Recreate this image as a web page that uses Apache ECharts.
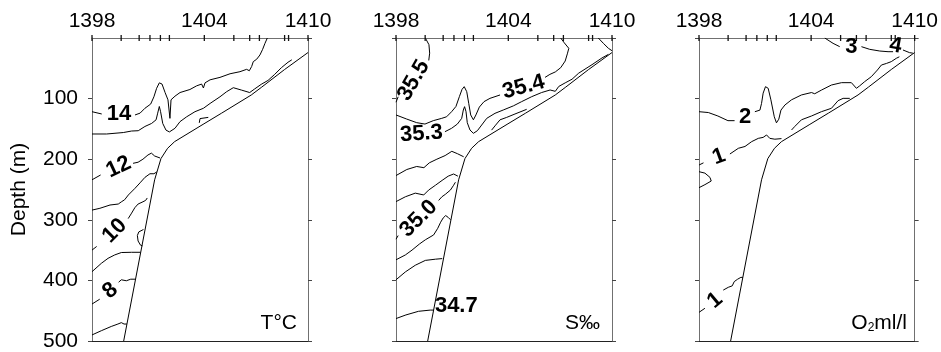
<!DOCTYPE html>
<html><head><meta charset="utf-8">
<script src="https://cdn.jsdelivr.net/npm/echarts@6/dist/echarts.min.js"></script>
<style>html,body{margin:0;padding:0;background:#fff}#c{width:941px;height:352px}</style>
</head><body><div id="c"></div>
<script>
// ---- stations along the section (distance in km from station 1398) ----
const stations   = [1398,1399,1400,1401,1402,1403,1404,1405,1406,1407,1408,1409,1410];
const stationKm  = [0,16.2,26.2,32.2,38,43,62.4,78.8,87.6,93,107,109.2,120];
const labelledStations = [1398,1404,1410];
const depthTicks = [0,100,200,300,400,500];

// ---- bottom profile [km, depth m] ----
const seafloor = [[120,24],[107,52],[94.3,81],[88.5,94],[72,124],[61.7,142.5],[45.9,171],[42,182],[38.3,199],[34.8,234],[17.6,500]];

// ---- temperature isolines [km, depth] ----
const temp14a = [[0,121.6],[5.4,125.4]];
const temp14b = [[23.9,127],[26.7,124],[29.4,116],[32.6,109],[34.4,97],[35.9,83],[37.4,74],[38.9,76],[40.6,90],[42.2,102],[43,102],[43.3,132.6],[43.9,102],[46.1,96],[48.9,90],[54.4,85],[58.1,79],[60.9,76],[61.9,82.5],[62.8,74],[65.6,69],[71.1,65],[76.7,59],[82.2,55.6],[85.9,51.7],[87.4,54],[88.7,47],[89.6,39],[91.5,35],[93.3,28],[94.8,18.7],[96.1,8.8],[97.4,0]];
const temp13  = [[0,158.4],[8.1,158.4],[17.4,156],[22,153.5],[25.7,153],[29.4,146],[33.1,141],[35.6,135],[36.5,124],[37.4,113],[38.1,121.6],[39.3,141],[41.1,152],[43,155],[46.1,149],[48.9,138],[52.6,130],[57.2,121.6],[61.9,116],[65.6,108],[71.1,97],[74.8,88.6],[78.5,82],[83.1,86],[87.6,90],[90.4,84],[94,76.5],[97.8,70],[101.5,60],[105.2,49],[108.9,40],[111,36]];
const temp13b = [[59.6,140],[60,133],[64.6,131]];
const temp12a = [[0,234],[4.8,226]];
const temp12b = [[22.8,206.8],[25.6,205],[28.3,200],[31.1,193],[33,190],[34.8,194.7],[37.8,198]];
const temp11  = [[0,284],[4.4,281],[10,275.6],[14.6,274],[16.5,270],[18.1,267],[20.2,259],[23.9,248],[26.7,239],[29.4,230],[32.2,224],[34.4,224],[36,221]];
const temp10a = [[0,350],[2.6,344]];
const temp10b = [[20.1,298],[22,289],[23.8,280],[25.6,274],[27.8,271],[29.8,268],[30.7,264]];
const temp10c = [[28.6,316],[26,320],[25.2,326],[25.6,335],[27,342],[28,343]];
const temp9   = [[0,385.6],[5.2,371.8],[8.9,363.6],[12.6,358],[16.3,354],[21.9,353.6],[27,353.6]];
const temp8a  = [[0,439],[4.3,431]];
const temp8b  = [[14.8,403],[16.3,399],[19.1,400.6],[21.5,398],[24.2,398]];
const temp7   = [[0,490],[5.2,483],[10.7,476],[14.4,472],[16.3,469.7],[17.8,472],[19.4,472]];
const tempLabelText = ['14','12','10','8'];
const tempLabelPos  = [[15,125],[14.8,213],[12.6,318],[10.2,417]];
const tempLabelRot  = [0,25,45,40];

// ---- salinity isolines ----
const sal355a = [[16.3,0],[18.3,11],[18.7,25],[18.2,37]];
const sal355b = [[1.2,97],[0,106]];
const sal355c = [[112.4,0],[115.2,8.8],[118,17],[120,21]];
const sal354a = [[0,127],[5.9,133.7],[11.5,139.7],[16.1,142],[20.7,136.4],[25.4,132.6],[28.1,130],[30.9,121.6],[33.3,113],[35.2,96.8],[36.7,84.7],[37.9,80.3],[39.3,88.6],[40.4,107.8],[41.5,127],[43,135],[44.4,127],[46.3,114],[48.9,105],[52.2,99.6],[57.8,94]];
const sal354b = [[82.8,65],[85.5,60],[88.5,56],[91.5,49],[94,38],[95.3,25],[96,17],[93.5,8],[91.5,0]];
const sal353  = [[27.2,154.6],[30.9,149],[34.1,142],[36.5,132.6],[37.4,118.8],[38.1,113.3],[38.9,121.6],[39.6,139.7],[41.1,151.8],[43,157.3],[45.2,153],[47.6,143.6],[50.4,132.6],[55,124.3],[59.6,118.8],[65.2,112],[69.8,105],[75.4,96.8],[80.9,90],[85.6,85.8],[88.5,88],[90.4,80],[94,74],[97.8,68],[101.5,58],[108.9,44],[114.4,33],[118,27]];
const sal353b = [[53.1,152],[55,145],[57.8,135],[61.5,131],[66.1,125.4],[72.6,117.7]];
const sal352  = [[0,227],[6,217],[11.5,212],[15.5,214],[18.5,206],[22.7,200],[27.3,194],[31,187],[34.2,191],[37.6,196]];
const sal351  = [[0,270],[5.2,262],[10.7,256],[15.4,259],[18.1,251],[21.9,243],[25.6,235],[29,228],[32,224.4],[34.4,228]];
const sal350a = [[0,332],[1.2,326]];
const sal350b = [[23.7,268],[25.5,262],[27.4,258],[30.2,251],[32,243],[33,238]];
const sal349  = [[0,366],[5.2,358],[8.9,350],[13,340],[16.3,333],[20.9,325],[23.2,314],[24.8,304],[26.2,297],[27.6,293],[29,296],[30.3,300]];
const sal348  = [[0,399],[5.2,386],[10.7,375],[16.3,367],[21.9,365],[25.7,364]];
const sal347  = [[0,463],[5.5,457],[12.5,451],[19,449],[21,449]];
const salLabelText = ['35.5','35.4','35.3','35.0','34.7'];
const salLabelPos  = [[9.8,70],[70.9,81],[14.1,158],[12.6,298],[33.5,442]];
const salLabelRot  = [60,15,4,45,0];

// ---- oxygen isolines ----
const oxy2a = [[0,121.6],[5.2,123],[10.5,128.7],[16.1,136.4],[19.8,136.4]];
const oxy2b = [[31.1,121.6],[33.9,119],[34.8,108],[35.7,91],[37,80.3],[38.5,83],[40,102],[41.9,130],[43.1,140],[44.4,134],[45.6,119],[47.8,110.6],[51.5,102],[57,94],[62.6,90],[64.4,92],[68.1,86],[73.7,77.6],[79.3,73.7],[84.8,73.7],[87.6,83],[89.4,79],[92.2,72],[95.9,63.8],[99.3,52.8],[101.5,44.6],[104.3,42],[107,39],[109.8,33.5],[111.5,31]];
const oxy1a = [[0,209.6],[2.5,206]];
const oxy1b = [[17.2,191.4],[21.9,182],[25.6,179],[29.3,171],[33,165.6],[35.7,164],[37.6,160],[39.4,165.6],[42.2,167],[45.9,166]];
const oxy1c = [[51.5,151.8],[53.3,146],[57,135],[62.6,128.7],[68.1,121.6],[73.7,116],[77.4,103.4],[80.2,99.6],[83.9,99.6]];
const oxy1d = [[0,220.6],[3.3,223],[6.1,230],[6.8,236],[3.3,242],[0,247]];
const oxy1e = [[0,452.7],[3.3,446]];
const oxy1f = [[13.5,416],[16.3,411.4],[18.5,409],[19.6,402],[21.5,398],[23.3,395],[24.4,395]];
const oxy3a = [[70,0],[74.6,8.8],[78.3,14.3]];
const oxy3b = [[90.4,14.3],[95,18.7],[100.6,21.5],[105.2,22.6],[108,22.6]];
const oxy4  = [[113.5,19.8],[117.2,24.2],[119,25]];
const oxyLabelText = ['2','1','1','3','4'];
const oxyLabelPos  = [[25.6,130],[11.1,196],[8.9,433],[84.8,15.4],[109.4,13]];
const oxyLabelRot  = [0,20,40,0,-10];

const panelTitles = ['T°C','S‰','O{s|2}ml/l'];

// ---------------------------------------------------------------
const FONT = '"Liberation Sans", Arial, Helvetica, sans-serif';
const panels = [
  {lines:[temp14a,temp14b,temp13,temp13b,temp12a,temp12b,temp11,temp10a,temp10b,temp10c,temp9,temp8a,temp8b,temp7],
   lt:tempLabelText, lp:tempLabelPos, lr:tempLabelRot},
  {lines:[sal355a,sal355b,sal355c,sal354a,sal354b,sal353,sal353b,sal352,sal351,sal350a,sal350b,sal349,sal348,sal347],
   lt:salLabelText, lp:salLabelPos, lr:salLabelRot},
  {lines:[oxy2a,oxy2b,oxy1a,oxy1b,oxy1c,oxy1d,oxy1e,oxy1f,oxy3a,oxy3b,oxy4],
   lt:oxyLabelText, lp:oxyLabelPos, lr:oxyLabelRot}
];
const panelLeft = [92,396,699];
const AX = '#707070';
const grid=[], xAxis=[], yAxis=[], series=[], title=[];
const labelKm = labelledStations.map(s => stationKm[stations.indexOf(s)]);

panels.forEach((p,i) => {
  grid.push({left:panelLeft[i], top:38, width:216, height:303, containLabel:false});
  xAxis.push({gridIndex:i, type:'value', position:'top', min:0, max:120,
    axisLine:{show:true,onZero:false,lineStyle:{color:AX,width:1}},
    axisTick:{show:false}, splitLine:{show:false},
    axisLabel:{show:true, customValues:labelKm, margin:6, fontSize:21, color:'#000', fontFamily:FONT,
      formatter:v => { const k = labelKm.findIndex(x => Math.abs(x-v)<1e-6); return k>=0 ? String(labelledStations[k]) : ''; }}});
  xAxis.push({gridIndex:i, type:'value', position:'bottom', min:0, max:120,
    axisLine:{show:true,onZero:false,lineStyle:{color:'#222',width:1}},
    axisTick:{show:false}, axisLabel:{show:false}, splitLine:{show:false}});
  yAxis.push({gridIndex:i, type:'value', position:'left', inverse:true, min:0, max:500, interval:100,
    axisLine:{show:true,onZero:false,lineStyle:{color:AX,width:1}},
    axisTick:{show:true,length:4,lineStyle:{color:'#444'}}, splitLine:{show:false},
    axisLabel:{show:i===0, showMinLabel:false, margin:14, fontSize:21, color:'#000', fontFamily:FONT},
    name: i===0 ? 'Depth (m)' : '', nameLocation:'middle', nameGap:62,
    nameTextStyle:{fontSize:21, color:'#000', fontFamily:FONT}});
  yAxis.push({gridIndex:i, type:'value', position:'right', inverse:true, min:0, max:500, interval:100,
    axisLine:{show:true,onZero:false,lineStyle:{color:AX,width:1}},
    axisTick:{show:true,length:4,lineStyle:{color:'#444'}}, splitLine:{show:false},
    axisLabel:{show:false}});
  const xi = 2*i, yi = 2*i;
  // bottom profile
  series.push({type:'line', xAxisIndex:xi, yAxisIndex:yi, data:seafloor, showSymbol:false, symbol:'none',
    lineStyle:{color:'#000',width:1}, silent:true, animation:false, z:3});
  // isolines
  p.lines.forEach(seg => series.push({type:'line', xAxisIndex:xi, yAxisIndex:yi, data:seg, symbol:'none',
    lineStyle:{color:'#000',width:1}, silent:true, animation:false, z:2}));
  // station markers on top axis
  series.push({type:'scatter', xAxisIndex:xi, yAxisIndex:yi, data:stationKm.map(k=>[k,0]), clip:false,
    symbol:'rect', symbolSize:[1.3,6], itemStyle:{color:'#111', opacity:1}, silent:true, animation:false, z:6});
  // isoline labels
  series.push({type:'scatter', xAxisIndex:xi, yAxisIndex:yi, symbolSize:0, silent:true, animation:false, z:7,
    itemStyle:{opacity:1},
    data:p.lp.map((pt,k)=>({value:pt, name:p.lt[k], label:{rotate:p.lr[k]}})),
    label:{show:true, position:'inside', formatter:'{b}', fontSize:22, fontWeight:'bold', color:'#000', opacity:1, fontFamily:FONT}});
});
const titleRight = [644,341,34];
panelTitles.forEach((t,i) => title.push({text:t, right:titleRight[i], bottom:18, padding:0,
  textStyle:{fontSize:21, fontWeight:'normal', color:'#000', fontFamily:FONT,
    rich:{s:{fontSize:12, fontFamily:FONT, color:'#000', verticalAlign:'bottom', lineHeight:12}}}}));

const chart = echarts.init(document.getElementById('c'), null, {renderer:'canvas'});
chart.setOption({animation:false, backgroundColor:'#fff', title, grid, xAxis, yAxis, series});
</script></body></html>
